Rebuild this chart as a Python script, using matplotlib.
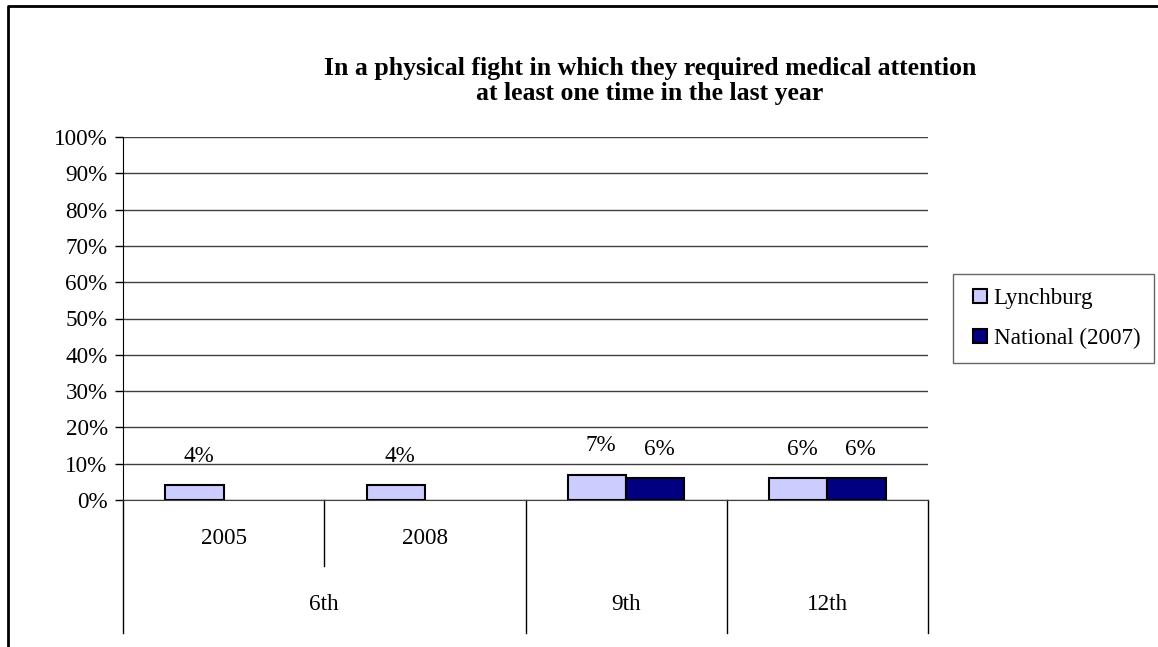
import numpy as np
import matplotlib
matplotlib.use('Agg')
import matplotlib.pyplot as plt
from matplotlib.lines import Line2D

# Data
inner_labels = ['2005', '2008', '', '']
outer_labels = ['6th', '9th', '12th']
group_sizes = [2, 1, 1]
lynchburg = [4, 4, 7, 6]
national = [np.nan, np.nan, 6, 6]
series_names = ['Lynchburg', 'National (2007)']
colors = ['#CCCCFF', '#000080']

plt.rcParams['font.family'] = ['Liberation Serif', 'DejaVu Serif']
FS = 16.7

W, H = 1158, 647
fig = plt.figure(figsize=(W / 100, H / 100), dpi=100)
ax = fig.add_axes([123 / W, 1 - 500 / H, (928 - 123) / W, (500 - 137) / H])

x = np.arange(len(lynchburg))
bw = 0.29
ax.bar(x - bw / 2, lynchburg, bw, color=colors[0], edgecolor='black', linewidth=1.5, zorder=3)
ax.bar(x + bw / 2, national, bw, color=colors[1], edgecolor='black', linewidth=1.5, zorder=3)

# value labels
for xs, vals in [(x - bw / 2, lynchburg), (x + bw / 2, national)]:
    for xi, v in zip(xs, vals):
        if not np.isnan(v):
            ax.text(xi + 0.02, v + 8, f'{v:.0f}%', ha='center', va='center', fontsize=FS)

ax.set_xlim(-0.5, len(x) - 0.5)
ax.set_ylim(0, 100)
ax.set_yticks(np.arange(0, 101, 10))
ax.set_yticklabels([f'{t}%' for t in range(0, 101, 10)], fontsize=FS)
ax.tick_params(axis='y', length=6, width=1, pad=5)
ax.set_xticks([])
ax.yaxis.grid(True, color='#404040', linewidth=1, zorder=0)
ax.set_axisbelow(True)
for s in ['top', 'right']:
    ax.spines[s].set_visible(False)
ax.spines['left'].set_color('black')
ax.spines['bottom'].set_color('#404040')

# multi-level category axis
trans = ax.get_xaxis_transform()
for xi, lab in zip(x, inner_labels):
    if lab:
        ax.text(xi, -0.105, lab, transform=trans, ha='center', va='center', fontsize=FS)
edges = np.concatenate([[0], np.cumsum(group_sizes)]) - 0.5
for i in range(len(x) + 1):
    b = i - 0.5
    y_end = -0.366 if np.any(np.isclose(edges, b)) else -0.182
    ax.plot([b, b], [0, y_end], transform=trans, color='black', lw=1, clip_on=False)
for g, lab in enumerate(outer_labels):
    mid = (edges[g] + edges[g + 1]) / 2
    ax.text(mid, -0.289, lab, transform=trans, ha='center', va='center', fontsize=FS)

fig.text(650 / W, 1 - 81 / H,
         'In a physical fight in which they required medical attention\nat least one time in the last year',
         ha='center', va='center', fontsize=18.5, fontweight='bold', linespacing=1.1)

handles = [Line2D([], [], marker='s', linestyle='none', markersize=10, markeredgewidth=1.5,
                  markerfacecolor=c, markeredgecolor='black') for c in colors]
leg = fig.legend(handles, series_names, loc='upper left', bbox_to_anchor=(953 / W, 1 - 274 / H),
                 fontsize=FS, frameon=True, fancybox=False, edgecolor='#404040',
                 handlelength=1.15, handletextpad=0.0,
                 labelspacing=0.8, borderpad=0.6, borderaxespad=0)
leg.get_frame().set_linewidth(1)

# chart border (top and left visible)
fig.add_artist(Line2D([8 / W, 8 / W, 1], [0, 1 - 6 / H, 1 - 6 / H], color='black', lw=2,
                      transform=fig.transFigure))

fig.savefig('out.png', dpi=100)
